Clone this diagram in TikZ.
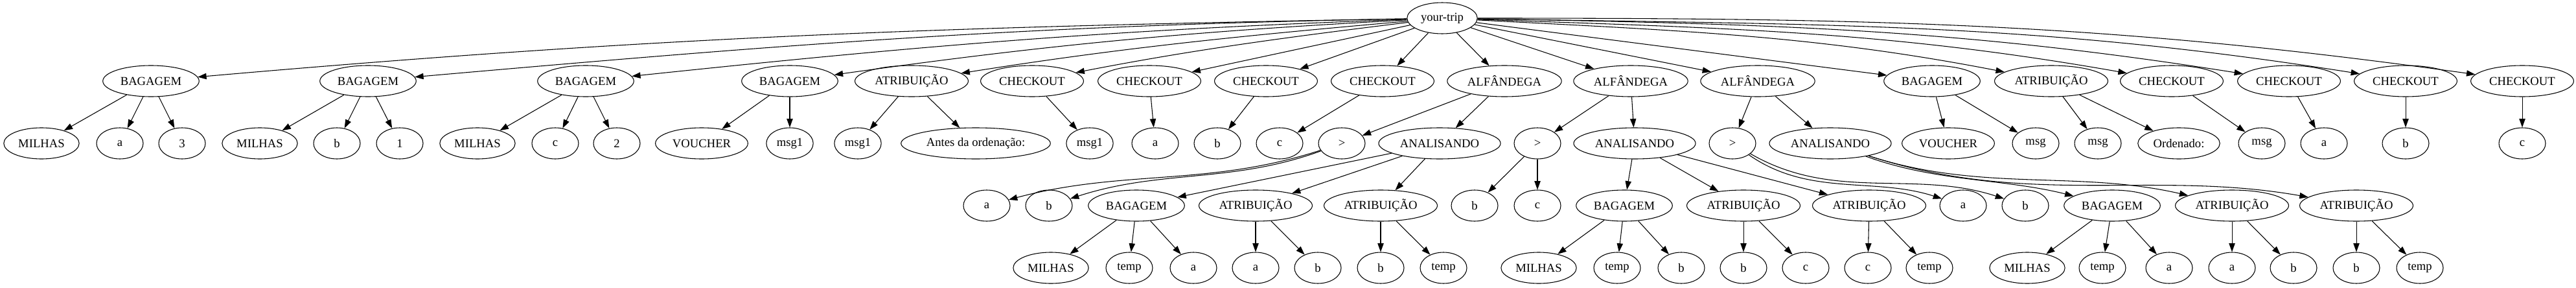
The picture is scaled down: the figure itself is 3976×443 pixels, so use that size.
\documentclass[tikz,border=0pt]{standalone}
\usepackage{fontspec}
\setmainfont{Liberation Serif}
\usetikzlibrary{arrows.meta,shapes.geometric}

\begin{document}
\begin{tikzpicture}[>={Triangle[length=10pt,width=7pt]},x=0.75pt,y=-0.75pt,line width=0.8pt,
    every node/.style={ellipse,draw,minimum width=54pt,minimum height=36pt,
      inner xsep=4pt,inner ysep=2pt,font=\fontsize{14}{17}\selectfont}]

                \useasboundingbox (0,0) rectangle (3976,443);

                \node (trip) at (2226,28) {your-trip};

                % first rank
                \node (bag1) at (233,125) {BAGAGEM};
                \node (bag2) at (568,125) {BAGAGEM};
                \node (bag3) at (904,125) {BAGAGEM};
                \node (bag4) at (1219,125) {BAGAGEM};
                \node (atr1) at (1407,125) {ATRIBUIÇÃO};
                \node (chk1) at (1593,125) {CHECKOUT};
                \node (chk2) at (1774,125) {CHECKOUT};
                \node (chk3) at (1954,125) {CHECKOUT};
                \node (chk4) at (2134,125) {CHECKOUT};
                \node (alf1) at (2322,125) {ALFÂNDEGA};
                \node (alf2) at (2517,125) {ALFÂNDEGA};
                \node (alf3) at (2713,125) {ALFÂNDEGA};
                \node (bag5) at (2982,125) {BAGAGEM};
                \node (atr2) at (3166,125) {ATRIBUIÇÃO};
                \node (chk5) at (3352,125) {CHECKOUT};
                \node (chk6) at (3533,125) {CHECKOUT};
                \node (chk7) at (3713,125) {CHECKOUT};
                \node (chk8) at (3893,125) {CHECKOUT};

                % second rank
                \node (bag1a) at (64,221) {MILHAS};
                \node (bag1b) at (185,221) {a};
                \node (bag1c) at (281,221) {3};
                \node (bag2a) at (401,221) {MILHAS};
                \node (bag2b) at (520,221) {b};
                \node (bag2c) at (617,221) {1};
                \node (bag3a) at (737,221) {MILHAS};
                \node (bag3b) at (857,221) {c};
                \node (bag3c) at (952,221) {2};
                \node (bag4a) at (1083,221) {VOUCHER};
                \node (bag4b) at (1219,221) {msg1};
                \node (atr1a) at (1324,221) {msg1};
                \node (atr1b) at (1506,221) {Antes da ordenação:};
                \node (chk1a) at (1682,221) {msg1};
                \node (chk2a) at (1783,221) {a};
                \node (chk3a) at (1879,221) {b};
                \node (chk4a) at (1975,221) {c};
                \node (alf1a) at (2071,221) {>};
                \node (alf1b) at (2222,221) {ANALISANDO};
                \node (alf2a) at (2373,221) {>};
                \node (alf2b) at (2523,221) {ANALISANDO};
                \node (alf3a) at (2674,221) {>};
                \node (alf3b) at (2825,221) {ANALISANDO};
                \node (bag5a) at (3007,221) {VOUCHER};
                \node (bag5b) at (3142,221) {msg};
                \node (atr2a) at (3238,221) {msg};
                \node (atr2b) at (3363,221) {Ordenado:};
                \node (chk5a) at (3491,221) {msg};
                \node (chk6a) at (3587,221) {a};
                \node (chk7a) at (3713,221) {b};
                \node (chk8a) at (3893,221) {c};

                % third rank
                \node (alf1aa) at (1523,317) {a};
                \node (alf1ab) at (1619,317) {b};
                \node (alf1ba) at (1754,317) {BAGAGEM};
                \node (alf1bb) at (1938,317) {ATRIBUIÇÃO};
                \node (alf1bc) at (2131,317) {ATRIBUIÇÃO};
                \node (alf2aa) at (2276,317) {b};
                \node (alf2ab) at (2373,317) {c};
                \node (alf2ba) at (2507,317) {BAGAGEM};
                \node (alf2bb) at (2691,317) {ATRIBUIÇÃO};
                \node (alf2bc) at (2885,317) {ATRIBUIÇÃO};
                \node (alf3aa) at (3030,317) {a};
                \node (alf3ab) at (3126,317) {b};
                \node (alf3ba) at (3260,317) {BAGAGEM};
                \node (alf3bb) at (3445,317) {ATRIBUIÇÃO};
                \node (alf3bc) at (3637,317) {ATRIBUIÇÃO};

                % fourth rank
                \node (alf1baa) at (1622,413) {MILHAS};
                \node (alf1bab) at (1743,413) {temp};
                \node (alf1bac) at (1842,413) {a};
                \node (alf1bba) at (1938,413) {a};
                \node (alf1bbb) at (2034,413) {b};
                \node (alf1bca) at (2131,413) {b};
                \node (alf1bcb) at (2228,413) {temp};
                \node (alf2baa) at (2375,413) {MILHAS};
                \node (alf2bab) at (2496,413) {temp};
                \node (alf2bac) at (2595,413) {b};
                \node (alf2bba) at (2691,413) {b};
                \node (alf2bbb) at (2787,413) {c};
                \node (alf2bca) at (2883,413) {c};
                \node (alf2bcb) at (2978,413) {temp};
                \node (alf3baa) at (3129,413) {MILHAS};
                \node (alf3bab) at (3245,413) {temp};
                \node (alf3bac) at (3348,413) {a};
                \node (alf3bba) at (3445,413) {a};
                \node (alf3bbb) at (3540,413) {b};
                \node (alf3bca) at (3637,413) {b};
                \node (alf3bcb) at (3735,413) {temp};

                % long edges out of the root
                \draw[->] (trip) .. controls +(181:586pt) and +(5:586pt) .. (bag1);
                \draw[->] (trip) .. controls +(181:488pt) and +(5:488pt) .. (bag2);
                \draw[->] (trip) .. controls +(182:389pt) and +(6:389pt) .. (bag3);
                \draw[->] (trip) .. controls +(183:297pt) and +(8:297pt) .. (bag4);
                \draw[->] (trip) .. controls +(185:242pt) and +(9:242pt) .. (atr1);
                \draw[->] (trip) .. controls +(187:188pt) and +(11:188pt) .. (chk1);
                \draw[->] (trip) .. controls +(-3:277pt) and +(169:277pt) .. (atr2);
                \draw[->] (trip) .. controls +(-2:332pt) and +(170:332pt) .. (chk5);
                \draw[->] (trip) .. controls +(-1:385pt) and +(171:385pt) .. (chk6);
                \draw[->] (trip) .. controls +(-1:438pt) and +(171:438pt) .. (chk7);
                \draw[->] (trip) .. controls +(0:490pt) and +(172:490pt) .. (chk8);

                \path[->] (trip) edge (chk2) edge (chk3) edge (chk4)
                                 edge (alf1) edge (alf2) edge (alf3) edge (bag5);

                \path[->] (bag1) edge (bag1a) edge (bag1b) edge (bag1c)
                          (bag2) edge (bag2a) edge (bag2b) edge (bag2c)
                          (bag3) edge (bag3a) edge (bag3b) edge (bag3c)
                          (bag4) edge (bag4a) edge (bag4b)
                          (atr1) edge (atr1a) edge (atr1b)
                          (chk1) edge (chk1a)
                          (chk2) edge (chk2a)
                          (chk3) edge (chk3a)
                          (chk4) edge (chk4a)
                          (alf1) edge (alf1a) edge (alf1b)
                          (alf2) edge (alf2a) edge (alf2b)
                          (alf3) edge (alf3a) edge (alf3b)
                          (bag5) edge (bag5a) edge (bag5b)
                          (atr2) edge (atr2a) edge (atr2b)
                          (chk5) edge (chk5a)
                          (chk6) edge (chk6a)
                          (chk7) edge (chk7a)
                          (chk8) edge (chk8a);

                % s-shaped edges down to the third rank
                \draw[->] (alf1a) .. controls +(-162:163pt) and +(15:163pt) .. (alf1aa);
                \draw[->] (alf1a) .. controls +(-160:136pt) and +(18:136pt) .. (alf1ab);
                \draw[->] (alf3a) .. controls +(-35:108pt) and +(162:108pt) .. (alf3aa);
                \draw[->] (alf3a) .. controls +(-30:136pt) and +(162:136pt) .. (alf3ab);
                \draw[->] (alf3b) .. controls +(-20:131pt) and +(166:131pt) .. (alf3ba);
                \draw[->] (alf3b) .. controls +(-18:184pt) and +(167:184pt) .. (alf3bb);
                \draw[->] (alf3b) .. controls +(-18:240pt) and +(170:240pt) .. (alf3bc);

                \path[->] (alf1b) edge (alf1ba) edge (alf1bb) edge (alf1bc)
                          (alf2a) edge (alf2aa) edge (alf2ab)
                          (alf2b) edge (alf2ba) edge (alf2bb) edge (alf2bc);

                \path[->] (alf1ba) edge (alf1baa) edge (alf1bab) edge (alf1bac)
                          (alf1bb) edge (alf1bba) edge (alf1bbb)
                          (alf1bc) edge (alf1bca) edge (alf1bcb)
                          (alf2ba) edge (alf2baa) edge (alf2bab) edge (alf2bac)
                          (alf2bb) edge (alf2bba) edge (alf2bbb)
                          (alf2bc) edge (alf2bca) edge (alf2bcb)
                          (alf3ba) edge (alf3baa) edge (alf3bab) edge (alf3bac)
                          (alf3bb) edge (alf3bba) edge (alf3bbb)
                          (alf3bc) edge (alf3bca) edge (alf3bcb);

            \end{tikzpicture}
\end{document}
